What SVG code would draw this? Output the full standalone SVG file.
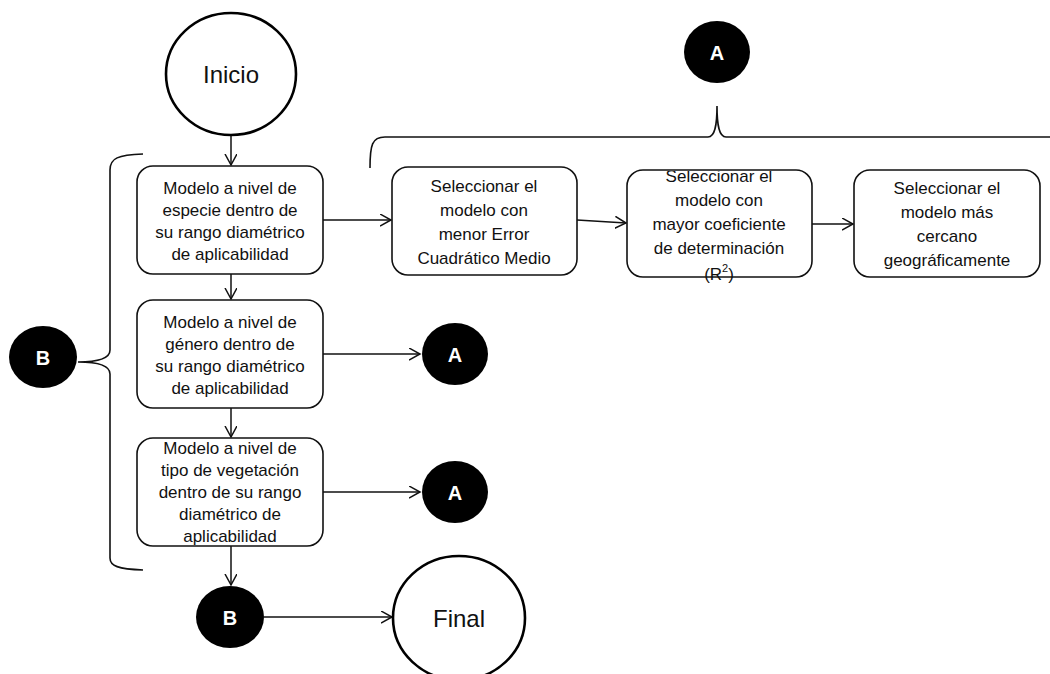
<svg xmlns="http://www.w3.org/2000/svg" width="1050" height="674" viewBox="0 0 1050 674">
<style>
.box{fill:#fff;stroke:#111;stroke-width:1.6}
.term{fill:#fff;stroke:#000;stroke-width:2.6}
.dot{fill:#000}
.t{font-family:"Liberation Sans",Arial,sans-serif;font-size:17px;fill:#111;text-anchor:middle;dominant-baseline:central}
.big{font-family:"Liberation Sans",Arial,sans-serif;font-size:24px;fill:#111;text-anchor:middle;dominant-baseline:central}
.lab{font-family:"Liberation Sans",Arial,sans-serif;font-size:20px;font-weight:bold;fill:#fff;text-anchor:middle;dominant-baseline:central}
.c{fill:none;stroke:#111;stroke-width:1.5}
.br{fill:none;stroke:#111;stroke-width:1.6}
</style>
<defs>
<marker id="ah" markerUnits="userSpaceOnUse" markerWidth="14" markerHeight="14" refX="11" refY="6" orient="auto">
<path d="M0,0 L11,6 L0,12" fill="none" stroke="#111" stroke-width="1.5"/>
</marker>
<clipPath id="clipS2"><rect x="627" y="171" width="185" height="130"/></clipPath>
</defs>

<g id="connectors">
<line class="c" x1="231" y1="136" x2="231" y2="165" marker-end="url(#ah)"/>
<line class="c" x1="231" y1="274" x2="231" y2="299" marker-end="url(#ah)"/>
<line class="c" x1="231" y1="408" x2="231" y2="437" marker-end="url(#ah)"/>
<line class="c" x1="231" y1="546" x2="231" y2="585" marker-end="url(#ah)"/>
<line class="c" x1="323" y1="220" x2="391" y2="220" marker-end="url(#ah)"/>
<line class="c" x1="577" y1="220" x2="626" y2="223" marker-end="url(#ah)"/>
<line class="c" x1="812" y1="224" x2="853" y2="224" marker-end="url(#ah)"/>
<line class="c" x1="323" y1="354" x2="420" y2="354" marker-end="url(#ah)"/>
<line class="c" x1="323" y1="492" x2="420" y2="492" marker-end="url(#ah)"/>
<line class="c" x1="264" y1="617" x2="392" y2="617" marker-end="url(#ah)"/>
<path class="br" d="M143,154 C118,155 110,158 110,170 L110,350 C110,358 100,362 78,362 C100,362 110,366 110,374 L110,558 C110,566 118,569 143,570"/>
<path class="br" d="M370,168 C370,145 372,137 385,137 L708,137 C715,137 717,125 717,106 C717,125 719,137 726,137 L1052,137"/>
</g>

<g id="inicio">
<ellipse class="term" cx="231" cy="74" rx="65" ry="61"/>
<text class="big" x="231" y="74">Inicio</text>
</g>

<g id="especie">
<rect class="box" x="137" y="166" width="186" height="108" rx="16"/>
<text class="t" x="230" y="188">Modelo a nivel de</text>
<text class="t" x="230" y="210">especie dentro de</text>
<text class="t" x="230" y="232">su rango diamétrico</text>
<text class="t" x="230" y="254">de aplicabilidad</text>
</g>

<g id="genero">
<rect class="box" x="137" y="300" width="186" height="108" rx="16"/>
<text class="t" x="230" y="322">Modelo a nivel de</text>
<text class="t" x="230" y="344">género dentro de</text>
<text class="t" x="230" y="366">su rango diamétrico</text>
<text class="t" x="230" y="388">de aplicabilidad</text>
</g>

<g id="vegetacion">
<rect class="box" x="137" y="438" width="186" height="108" rx="16"/>
<text class="t" x="230" y="448">Modelo a nivel de</text>
<text class="t" x="230" y="470">tipo de vegetación</text>
<text class="t" x="230" y="492">dentro de su rango</text>
<text class="t" x="230" y="514">diamétrico de</text>
<text class="t" x="230" y="536">aplicabilidad</text>
</g>

<g id="ecm">
<rect class="box" x="392" y="167" width="185" height="108" rx="16"/>
<text class="t" x="484" y="186">Seleccionar el</text>
<text class="t" x="484" y="210">modelo con</text>
<text class="t" x="484" y="234">menor Error</text>
<text class="t" x="484" y="258">Cuadrático Medio</text>
</g>

<g id="r2">
<rect class="box" x="627" y="170" width="185" height="107" rx="16"/>
<g clip-path="url(#clipS2)">
<text class="t" x="719" y="176">Seleccionar el</text>
<text class="t" x="719" y="200">modelo con</text>
<text class="t" x="719" y="224">mayor coeficiente</text>
<text class="t" x="719" y="248">de determinación</text>
<text class="t" x="719" y="274">(R<tspan font-size="11" dy="-6">2</tspan><tspan dy="6">)</tspan></text>
</g>
</g>

<g id="geo">
<rect class="box" x="854" y="170" width="186" height="107" rx="16"/>
<text class="t" x="947" y="188">Seleccionar el</text>
<text class="t" x="947" y="212">modelo más</text>
<text class="t" x="947" y="236">cercano</text>
<text class="t" x="947" y="260">geográficamente</text>
</g>

<g id="A-top">
<ellipse class="dot" cx="717" cy="52" rx="33" ry="31"/>
<text class="lab" x="717" y="53">A</text>
</g>

<g id="A1">
<ellipse class="dot" cx="455" cy="354" rx="33" ry="31"/>
<text class="lab" x="455" y="355">A</text>
</g>

<g id="A2">
<ellipse class="dot" cx="455" cy="492" rx="33" ry="31"/>
<text class="lab" x="455" y="493">A</text>
</g>

<g id="B-left">
<ellipse class="dot" cx="43" cy="357" rx="34" ry="31"/>
<text class="lab" x="43" y="358">B</text>
</g>

<g id="B-bottom">
<ellipse class="dot" cx="230" cy="617" rx="34" ry="31"/>
<text class="lab" x="230" y="618">B</text>
</g>

<g id="final">
<ellipse class="term" cx="459" cy="618" rx="66" ry="62"/>
<text class="big" x="459" y="618">Final</text>
</g>
</svg>
